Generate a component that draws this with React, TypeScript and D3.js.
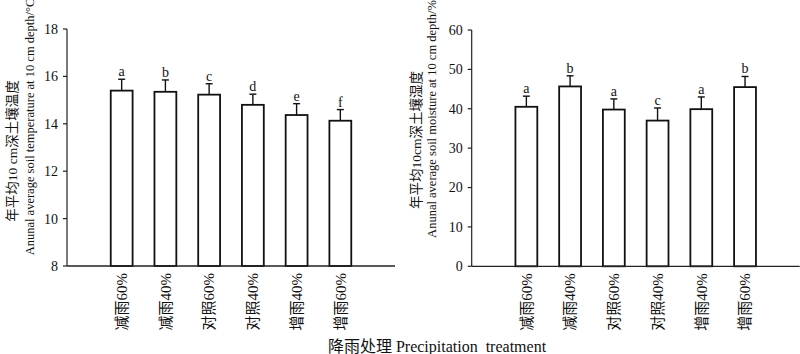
import React from 'react';
import * as d3 from 'd3';

const categories = ['减雨60%', '减雨40%', '对照60%', '对照40%', '增雨40%', '增雨60%'];

const tempMean = [15.4, 15.35, 15.23, 14.8, 14.37, 14.13];
const tempErr = [0.48, 0.5, 0.46, 0.45, 0.48, 0.47];
const tempLetters = ['a', 'b', 'c', 'd', 'e', 'f'];
const tempTicks = [8, 10, 12, 14, 16, 18];

const moistMean = [40.5, 45.67, 39.8, 37.0, 39.9, 45.5];
const moistErr = [2.7, 2.7, 2.7, 3.2, 3.1, 2.7];
const moistLetters = ['a', 'b', 'a', 'c', 'a', 'b'];
const moistTicks = [0, 10, 20, 30, 40, 50, 60];

const FONT = '"Liberation Serif", "Times New Roman", "Noto Sans CJK SC", serif';

type PanelProps = {
  left: number;
  top: number;
  bottom: number;
  width: number;
  means: number[];
  errs: number[];
  letters: string[];
  ticks: number[];
  title1: string;
  title2: string;
  title1X: number;
  title1Y: number;
  title2X: number;
  title2Y: number;
};

const Panel = (p: PanelProps) => {
  const x = d3.scaleBand<string>()
    .domain(categories)
    .range([p.left, p.left + p.width])
    .paddingInner(0.5)
    .paddingOuter(1);

  const y = d3.scaleLinear()
    .domain([p.ticks[0], p.ticks[p.ticks.length - 1]])
    .range([p.bottom, p.top]);

  const bw = x.bandwidth();
  const cap = 3.5;

  return (
    <g>
      {/* bars */}
      {categories.map((c, i) => (
        <rect key={'b' + i}
          x={x(c)} y={y(p.means[i])}
          width={bw} height={p.bottom - y(p.means[i])}
          fill="#fff" stroke="#111" strokeWidth={1.8} />
      ))}

      {/* error bars, upper half only */}
      {categories.map((c, i) => {
        const cx = (x(c) as number) + bw / 2;
        const yt = y(p.means[i] + p.errs[i]);
        return (
          <g key={'e' + i} stroke="#111" strokeWidth={1.4}>
            <line x1={cx} x2={cx} y1={y(p.means[i])} y2={yt} />
            <line x1={cx - cap} x2={cx + cap} y1={yt} y2={yt} />
          </g>
        );
      })}

      {/* significance letters */}
      {categories.map((c, i) => (
        <text key={'l' + i}
          x={(x(c) as number) + bw / 2}
          y={y(p.means[i] + p.errs[i]) - 3}
          textAnchor="middle" fontSize={14} fontFamily={FONT} fill="#111">
          {p.letters[i]}
        </text>
      ))}

      {/* axes */}
      <line x1={p.left} x2={p.left} y1={p.top} y2={p.bottom} stroke="#222" strokeWidth={1.2} />
      <line x1={p.left} x2={p.left + p.width} y1={p.bottom} y2={p.bottom} stroke="#222" strokeWidth={1.3} />
      {p.ticks.map(t => (
        <g key={'t' + t}>
          <line x1={p.left - 4} x2={p.left} y1={y(t)} y2={y(t)} stroke="#222" strokeWidth={1.2} />
          <text x={p.left - 9} y={y(t)} dy="0.35em" textAnchor="end"
            fontSize={14} fontFamily={FONT} fill="#111">{t}</text>
        </g>
      ))}

      {/* category labels, rotated */}
      {categories.map((c, i) => {
        const cx = (x(c) as number) + bw / 2;
        return (
          <text key={'c' + i}
            transform={`translate(${cx},${p.bottom + 7}) rotate(-90)`}
            dy="0.35em" textAnchor="end" fontSize={15} fontFamily={FONT} fill="#111">
            {c}
          </text>
        );
      })}

      {/* y titles */}
      <text transform={`translate(${p.title1X},${p.title1Y}) rotate(-90)`}
        dy="0.35em" textAnchor="middle" fontSize={13.5} fontFamily={FONT} fill="#111">
        {p.title1}
      </text>
      <text transform={`translate(${p.title2X},${p.title2Y}) rotate(-90)`}
        dy="0.35em" textAnchor="middle" fontSize={12.5} fontFamily={FONT} fill="#111">
        {p.title2}
      </text>
    </g>
  );
};

export default function App() {
  return (
    <svg width={800} height={354}
      style={{ position: 'absolute', left: 0, top: 0, background: '#fff' }}>
      <Panel left={67} top={29} bottom={266} width={328}
        means={tempMean} errs={tempErr} letters={tempLetters} ticks={tempTicks}
        title1="年平均10 cm深土壤温度"
        title2="Anunal average soil temperature at 10 cm depth/°C"
        title1X={12} title1Y={151} title2X={30} title2Y={127} />
      <Panel left={471.7} top={30} bottom={266.3} width={328}
        means={moistMean} errs={moistErr} letters={moistLetters} ticks={moistTicks}
        title1="年平均10cm深土壤湿度"
        title2="Anunal average soil moisture at 10 cm depth/%"
        title1X={416} title1Y={140} title2X={432} title2Y={119} />
      <text x={437} y={346} dy="0.35em" textAnchor="middle" fontSize={16}
        fontFamily={FONT} fill="#111" style={{ whiteSpace: 'pre' }}>
        {'降雨处理 Precipitation  treatment'}
      </text>
    </svg>
  );
}
